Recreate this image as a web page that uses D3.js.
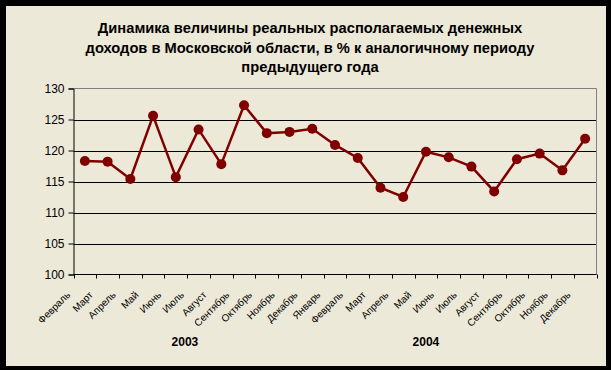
<!DOCTYPE html>
<html>
<head>
<meta charset="utf-8">
<script src="https://cdn.jsdelivr.net/npm/d3@7"></script>
<style>
  body { margin: 0; background: #000; }
  svg { display: block; }
</style>
</head>
<body>
<svg id="chart"></svg>
<script>
const months = ["Февраль", "Март", "Апрель", "Май", "Июнь", "Июль", "Август", "Сентябрь", "Октябрь", "Ноябрь", "Декабрь",
    "Январь", "Февраль", "Март", "Апрель", "Май", "Июнь", "Июль", "Август", "Сентябрь", "Октябрь", "Ноябрь", "Декабрь"];
const years = ["2003", "2004"];
const yearAt = [4.4, 15]; // category position under which each year label sits
const values = [118.3, 118.2, 115.4, 125.6, 115.7, 123.4, 117.8, 127.3, 122.8, 123.0, 123.5,
    120.9, 118.8, 114.0, 112.5, 119.8, 118.9, 117.4, 113.4, 118.6, 119.5, 116.8, 121.9];
const yTicks = [100, 105, 110, 115, 120, 125, 130];
const titleLines = ["Динамика величины реальных располагаемых денежных",
    "доходов в Московской области, в % к аналогичному периоду",
    "предыдущего года"];

const width = 611, height = 370;
const font = "Arial, 'Liberation Sans', sans-serif";
const svg = d3.select("#chart").attr("width", width).attr("height", height);

// beige chart area inside the black frame
svg.append("rect").attr("x", 6).attr("y", 6).attr("width", 600).attr("height", 360).attr("fill", "#ECE9D8");

const plot = { left: 73.5, right: 596.5, top: 88.5, bottom: 274.5 };
const ids = months.map((m, i) => i);

const x = d3.scaleBand().domain(ids).range([plot.left, plot.right]);
const y = d3.scaleLinear().domain([100, 130]).range([plot.bottom, plot.top]);
const cx = k => plot.left + (k + 0.5) * x.bandwidth(); // works for fractional positions too

// title
svg.append("g").selectAll("text")
    .data(titleLines)
    .enter().append("text")
    .attr("x", 310)
    .attr("y", (d, i) => 33 + i * 19.5)
    .attr("text-anchor", "middle")
    .style("font-family", font)
    .style("font-size", "14.7px")
    .style("font-weight", "bold")
    .style("fill", "#000")
    .text(d => d);

// gridlines
svg.append("g").selectAll("line")
    .data(yTicks.filter(t => t > 100 && t < 130))
    .enter().append("line")
    .attr("x1", plot.left).attr("x2", plot.right)
    .attr("y1", d => Math.round(y(d)) + 0.5).attr("y2", d => Math.round(y(d)) + 0.5)
    .style("stroke", "#000").style("stroke-width", 1);

// plot border top/right (gray)
svg.append("path")
    .attr("d", `M${plot.left},${plot.top}H${plot.right}V${plot.bottom}`)
    .style("fill", "none").style("stroke", "#808080").style("stroke-width", 1);

// y axis
const yAxis = svg.append("g")
    .attr("transform", `translate(${plot.left},0)`)
    .call(d3.axisLeft(y).tickValues(yTicks).tickSize(5).tickPadding(4));
yAxis.selectAll("text")
    .style("font-family", font)
    .style("font-size", "12px").style("fill", "#000");
yAxis.selectAll("line, path").style("stroke", "#000");

// x axis ticks at band boundaries
const xBounds = ids.map(i => x(i)).concat([plot.right]);
svg.append("line")
    .attr("x1", plot.left).attr("x2", plot.right)
    .attr("y1", plot.bottom).attr("y2", plot.bottom)
    .style("stroke", "#000");
svg.append("g").selectAll("line")
    .data(xBounds)
    .enter().append("line")
    .attr("x1", d => Math.round(d) + 0.5).attr("x2", d => Math.round(d) + 0.5)
    .attr("y1", plot.bottom).attr("y2", plot.bottom + 4)
    .style("stroke", "#000");

// month labels rotated
svg.append("g").selectAll("text")
    .data(ids)
    .enter().append("text")
    .attr("transform", d => `translate(${cx(d) - 14},${plot.bottom + 21}) rotate(-45)`)
    .attr("text-anchor", "end")
    .style("font-family", font)
    .style("font-size", "10px")
    .style("fill", "#000")
    .text(d => months[d]);

// year labels
svg.append("g").selectAll("text")
    .data(years)
    .enter().append("text")
    .attr("x", (d, i) => cx(yearAt[i]))
    .attr("y", 346)
    .attr("text-anchor", "middle")
    .style("font-family", font)
    .style("font-size", "12px")
    .style("font-weight", "bold")
    .style("fill", "#000")
    .text(d => d);

// line + markers
const line = d3.line()
    .x((d, i) => cx(i))
    .y(d => y(d));

svg.append("path")
    .datum(values)
    .attr("d", line)
    .style("fill", "none")
    .style("stroke", "#800000")
    .style("stroke-width", 2.5);

svg.append("g").selectAll("circle")
    .data(values)
    .enter().append("circle")
    .attr("cx", (d, i) => cx(i))
    .attr("cy", d => y(d))
    .attr("r", 5)
    .style("fill", "#800000");
</script>
</body>
</html>
